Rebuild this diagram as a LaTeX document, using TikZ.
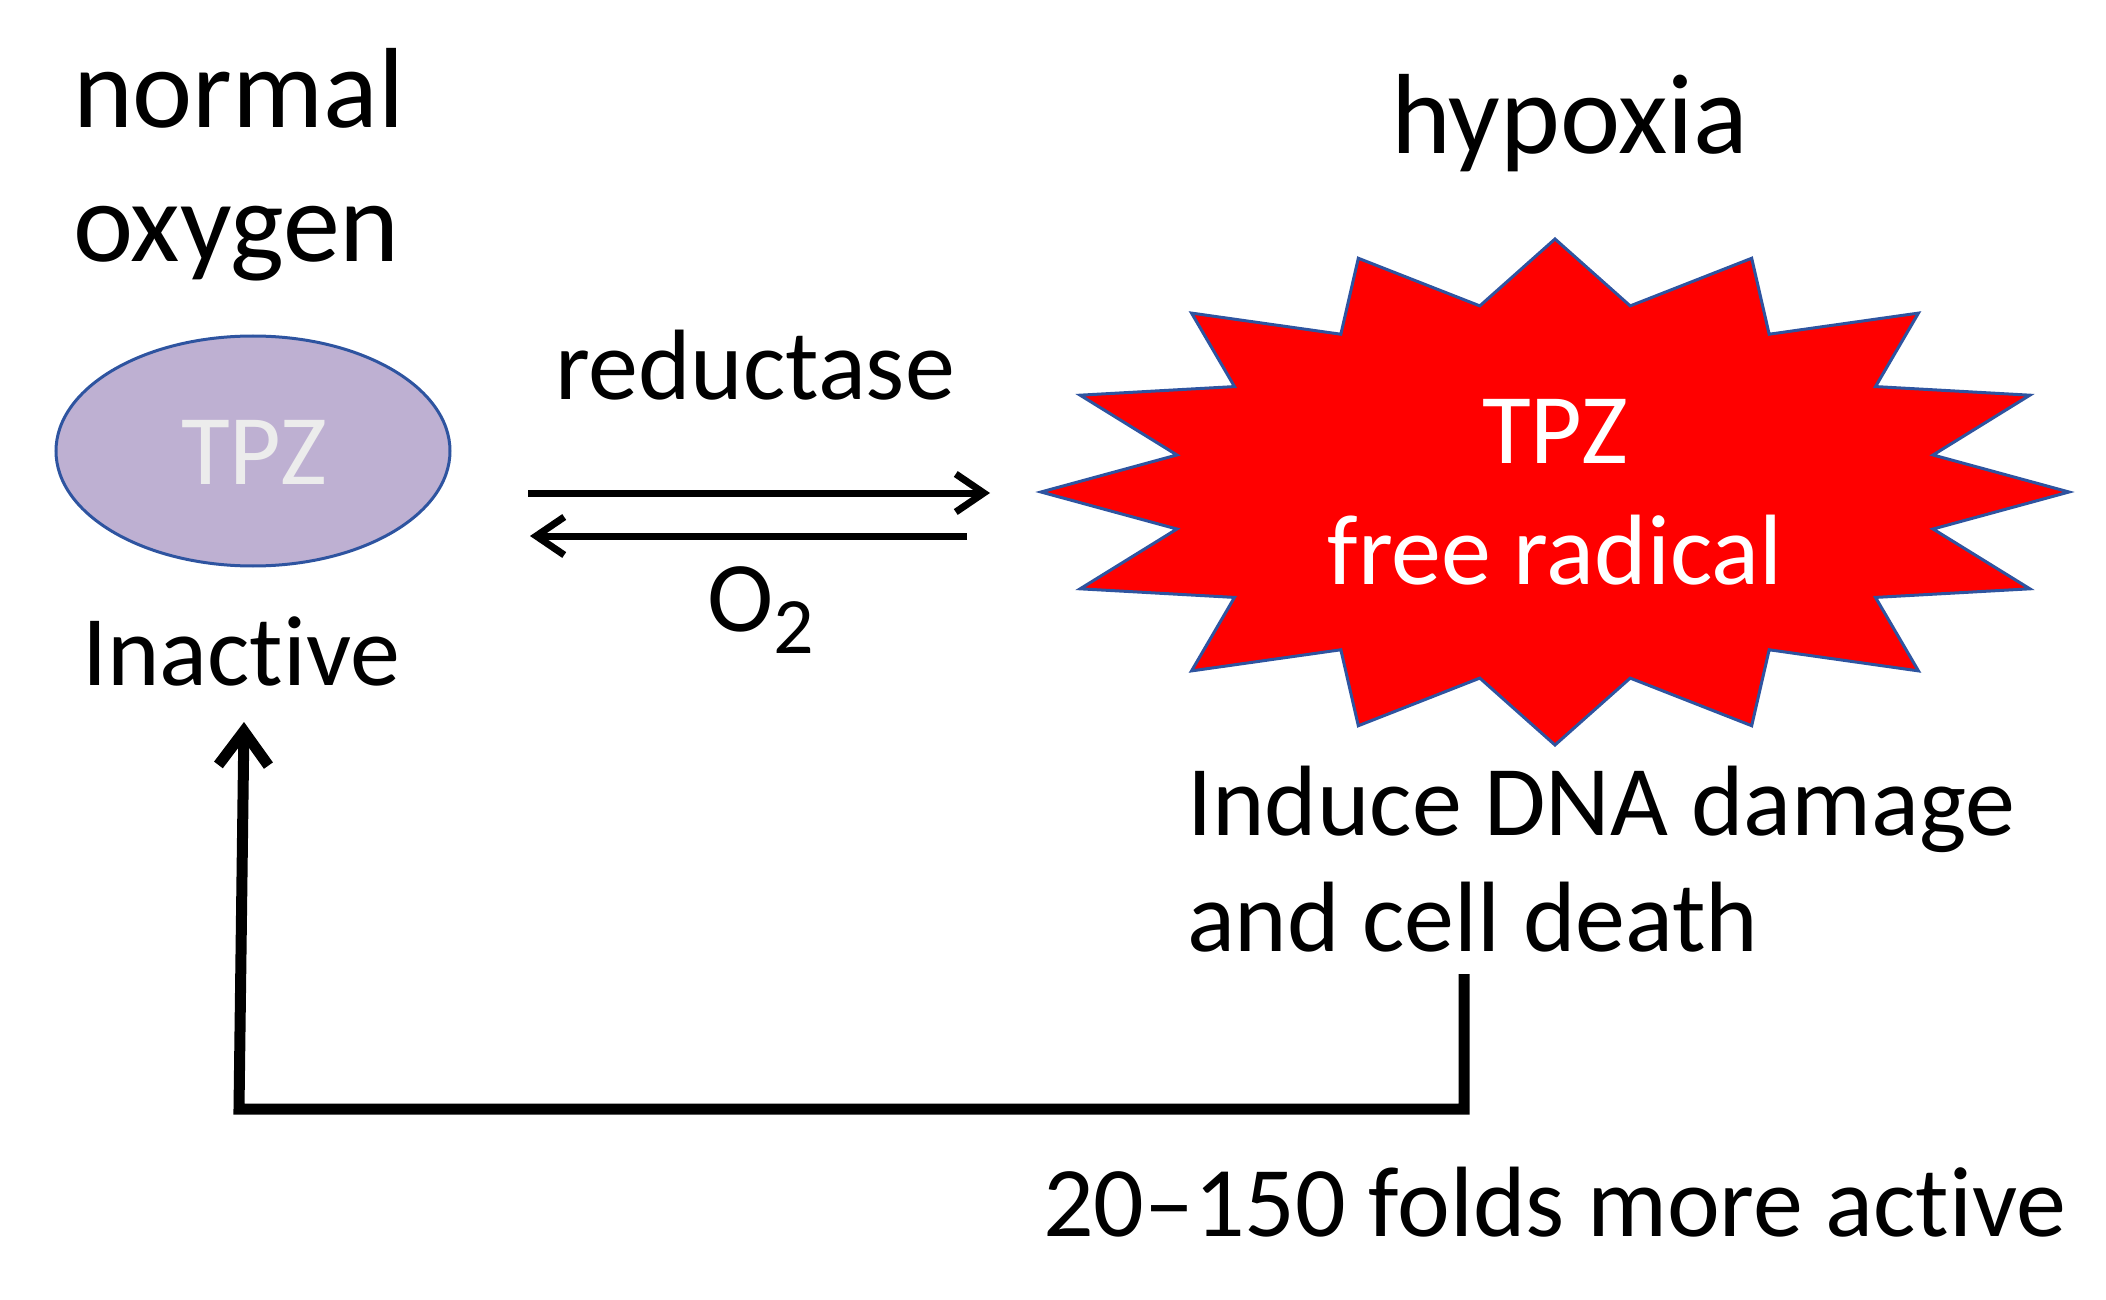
\documentclass[tikz,border=0pt]{standalone}
\usepackage{fontspec}
\setmainfont{Carlito}[Ligatures={TeX,NoCommon}]
\usetikzlibrary{arrows.meta}
\definecolor{lav}{HTML}{BEB0D2}
\definecolor{edgeblue}{HTML}{2E54A0}
\definecolor{tpzgray}{HTML}{ECECEC}
\definecolor{starred}{HTML}{FF0000}
\tikzset{
  lbl/.style={inner sep=0pt, outer sep=0pt, text=black, font=\fontsize{50}{60}\selectfont},
  biglbl/.style={lbl, font=\fontsize{57}{68}\selectfont},
  thinarrow/.style={line width=3.5pt, -{Straight Barb[length=14pt,width=19pt]}},
  looparrow/.style={line width=5.5pt, -{Straight Barb[length=17pt,width=25pt]}},
}
\begin{document}
\begin{tikzpicture}[x=0.5pt,y=-0.5pt]
\useasboundingbox (0,0) rectangle (2106,1300);
% titles
\node[biglbl, anchor=base west] (normal) at (73,128) {normal};
\node[biglbl, anchor=base west] (oxygen) at (73,262) {oxygen};
\node[biglbl, anchor=base west] (hypoxia) at (1391,154) {hypoxia};
% inactive TPZ ellipse
\draw[fill=lav, draw=edgeblue, line width=1.5pt] (253,451) ellipse [x radius=197, y radius=115];
\node[lbl, anchor=base, text=tpzgray] (tpz1) at (254,484) {TPZ};
\node[lbl, anchor=base west] (inactive) at (82,685) {Inactive};
% star
\draw[fill=starred, draw=edgeblue, line width=1.5pt]
  plot[samples at={0,...,31}, variable=\k]
  ({1555+514*(1-0.25*mod(\k,2))*sin(\k*11.25)}, {492-253*(1-0.25*mod(\k,2))*cos(\k*11.25)}) -- cycle;
\node[lbl, anchor=base, text=white] (tpz2) at (1555,463) {TPZ};
\node[lbl, anchor=base, text=white] (radical) at (1555,584) {free radical};
% reaction arrows
\node[lbl, anchor=base west] (reductase) at (555,400) {reductase};
\node[lbl, anchor=base west] (o2) at (707,631) {O\raisebox{-11pt}{\fontsize{40}{40}\selectfont 2}};
\coordinate (fwdA) at (528,493);
\coordinate (fwdB) at (990,493);
\coordinate (revA) at (967,536);
\coordinate (revB) at (530,536);
\draw[thinarrow] (fwdA) -- (fwdB);
\draw[thinarrow] (revA) -- (revB);
% outcome texts
\node[lbl, anchor=base west] (induce) at (1187,835) {Induce DNA damage};
\node[lbl, anchor=base west] (celldeath) at (1187,951) {and cell death};
\node[lbl, anchor=base west] (folds) at (1043,1236) {20–150 folds more active};
% loop connector
\coordinate (loopstart) at (1464,974);
\coordinate (loopR) at (1464,1109);
\coordinate (loopL) at (239,1109);
\coordinate (loopend) at (244,722);
\draw[looparrow] (loopstart) -- (loopR) -- (loopL) -- (loopend);
\end{tikzpicture}
\end{document}
